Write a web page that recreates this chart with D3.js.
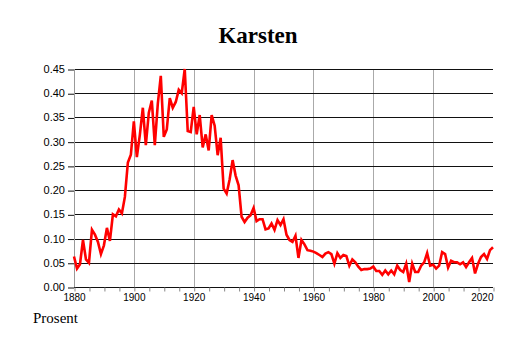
<!DOCTYPE html>
<html>
<head>
<meta charset="utf-8">
<script src="https://cdn.jsdelivr.net/npm/d3@7"></script>
<style>
  body { margin: 0; background: #fff; }
  .title { font-family: "Liberation Serif", "Times New Roman", serif; font-weight: bold; font-size: 23px; }
  .unit { font-family: "Liberation Serif", "Times New Roman", serif; font-size: 15px; }
  .tick text { font-family: "Liberation Sans", Arial, sans-serif; fill: #000; }
</style>
</head>
<body>
<div id="chart"></div>
<script>
const years = d3.range(1880, 2021);

const values = [
  0.063, 0.038, 0.047, 0.097, 0.057, 0.050, 0.118, 0.108, 0.093, 0.068,
  0.086, 0.122, 0.095, 0.150, 0.146, 0.160, 0.152, 0.186, 0.257, 0.273,
  0.342, 0.268, 0.314, 0.370, 0.293, 0.360, 0.385, 0.293, 0.378, 0.436,
  0.310, 0.325, 0.390, 0.370, 0.382, 0.407, 0.400, 0.450, 0.322, 0.320,
  0.372, 0.315, 0.355, 0.288, 0.315, 0.282, 0.355, 0.333, 0.272, 0.308,
  0.203, 0.193, 0.222, 0.262, 0.230, 0.210, 0.145, 0.134, 0.143, 0.148,
  0.163, 0.136, 0.140, 0.140, 0.119, 0.121, 0.131, 0.118, 0.138, 0.128,
  0.140, 0.108, 0.097, 0.093, 0.106, 0.060, 0.097, 0.088, 0.076, 0.075,
  0.073, 0.070, 0.066, 0.062, 0.069, 0.072, 0.068, 0.048, 0.070, 0.060,
  0.066, 0.064, 0.044, 0.057, 0.051, 0.042, 0.035, 0.037, 0.037, 0.038,
  0.042, 0.033, 0.033, 0.025, 0.034, 0.026, 0.034, 0.026, 0.044, 0.035,
  0.031, 0.048, 0.010, 0.048, 0.031, 0.031, 0.044, 0.051, 0.070, 0.044,
  0.046, 0.038, 0.044, 0.072, 0.068, 0.040, 0.054, 0.051, 0.051, 0.047,
  0.051, 0.041, 0.051, 0.060, 0.028, 0.048, 0.062, 0.068, 0.058, 0.076,
  0.082
];

const x_ticks = [1880, 1900, 1920, 1940, 1960, 1980, 2000, 2020];
const y_ticks = [0, 0.05, 0.10, 0.15, 0.20, 0.25, 0.30, 0.35, 0.40, 0.45];

function name_chart(options) {
  const id = '#' + options.id;
  const svg_width = options.width || 514;
  const svg_height = options.height || 343;

  const margin = { top: 69, right: 21, bottom: 56, left: 74 },
    width = svg_width - margin.left - margin.right,
    height = svg_height - margin.top - margin.bottom;

  const data = years.map((y, i) => ({ year: y, value: values[i] }));

  const svg = d3.select(id)
    .append('svg')
    .attr('width', svg_width)
    .attr('height', svg_height);

  const g = svg.append('g')
    .attr('transform', 'translate(' + margin.left + ',' + margin.top + ')');

  const x = d3.scaleLinear().domain([1880, 2020]).range([0, width]);
  const y = d3.scaleLinear().domain([0, 0.45]).range([height, 0]);

  // vertical grey grid
  g.append('g')
    .selectAll('line')
    .data(x_ticks.slice(1, -1))
    .enter()
    .append('line')
    .attr('x1', d => Math.round(x(d)) + 0.5)
    .attr('x2', d => Math.round(x(d)) + 0.5)
    .attr('y1', 0)
    .attr('y2', height)
    .attr('stroke', '#aaa')
    .attr('stroke-width', 1);

  // horizontal black grid
  g.append('g')
    .selectAll('line')
    .data(y_ticks)
    .enter()
    .append('line')
    .attr('x1', 0)
    .attr('x2', width)
    .attr('y1', d => Math.round(y(d)) + 0.5)
    .attr('y2', d => Math.round(y(d)) + 0.5)
    .attr('stroke', '#111')
    .attr('stroke-width', 1);

  // left axis line (grey)
  g.append('line')
    .attr('x1', 0.5).attr('x2', 0.5)
    .attr('y1', 0).attr('y2', height)
    .attr('stroke', '#999');

  // y axis
  const y_axis = g.append('g')
    .call(d3.axisLeft(y)
      .tickValues(y_ticks)
      .tickSize(6)
      .tickPadding(3)
      .tickFormat(d3.format('.2f')));
  y_axis.select('.domain').remove();
  y_axis.selectAll('.tick line').attr('stroke', '#111')
    .attr('transform', 'translate(0,0.5)');
  y_axis.selectAll('.tick text').style('font-size', '11px');

  // x axis, minor ticks every 5 years
  const x_axis = g.append('g')
    .attr('transform', 'translate(0,' + height + ')')
    .call(d3.axisBottom(x)
      .tickValues(d3.range(1880, 2021, 5))
      .tickSize(4)
      .tickPadding(3)
      .tickFormat(d => x_ticks.includes(d) ? d : ''));
  x_axis.select('.domain').remove();
  x_axis.selectAll('.tick line').attr('stroke', '#888')
    .attr('transform', 'translate(0.5,0.5)');
  x_axis.selectAll('.tick text').style('font-size', '10px');
  x_axis.selectAll('.tick text')
    .filter(d => d === 2020)
    .attr('text-anchor', 'end');

  // line
  const line = d3.line()
    .x(d => x(d.year))
    .y(d => y(d.value));

  g.append('path')
    .datum(data)
    .attr('d', line)
    .attr('fill', 'none')
    .attr('stroke', '#ff0000')
    .attr('stroke-width', 2.6)
    .attr('stroke-linejoin', 'miter');

  svg.append('text')
    .attr('class', 'title')
    .attr('x', 258)
    .attr('y', 43)
    .attr('text-anchor', 'middle')
    .text(options.title);

  svg.append('text')
    .attr('class', 'unit')
    .attr('x', 33)
    .attr('y', 323)
    .text('Prosent');
}

name_chart({ id: 'chart', title: 'Karsten' });
</script>
</body>
</html>
